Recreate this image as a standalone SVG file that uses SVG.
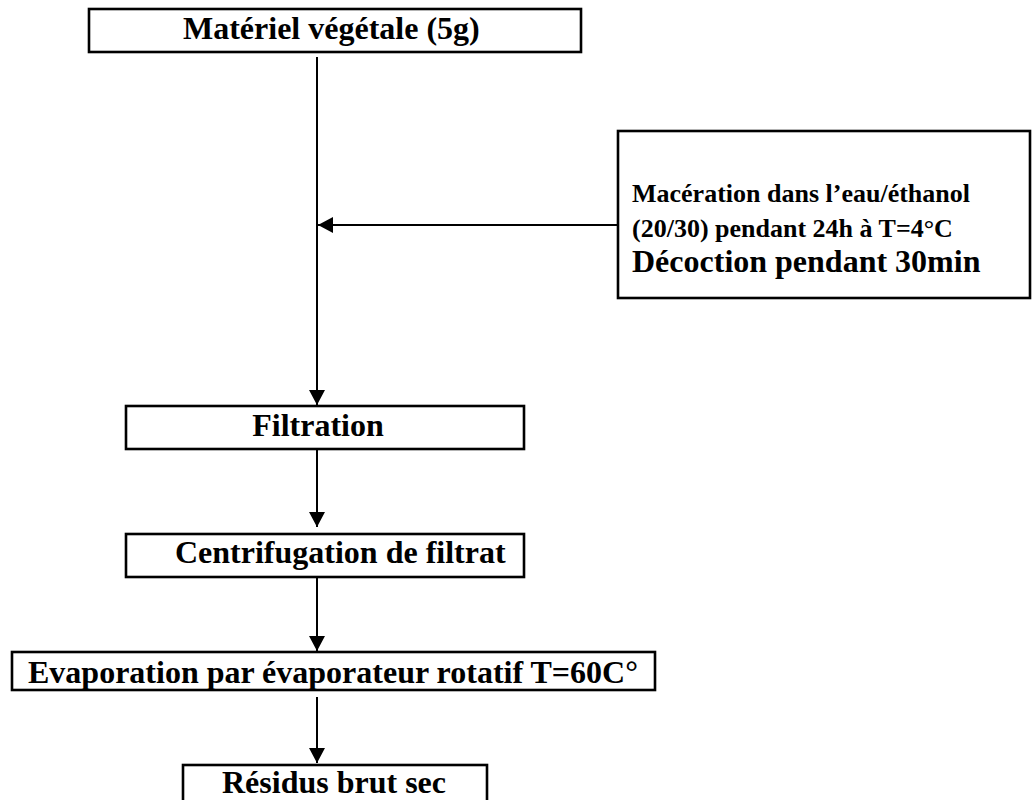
<svg xmlns="http://www.w3.org/2000/svg" width="1032" height="800" viewBox="0 0 1032 800">
  <style>
    .box { fill: #ffffff; stroke: #000000; stroke-width: 2.6; }
    .lbl { font-family: "Liberation Serif", "Times New Roman", serif; font-weight: bold; fill: #000000; font-size: 32px; }
    .small { font-size: 26px; }
    .conn { stroke: #000000; stroke-width: 2; fill: none; }
  </style>
  <defs>
    <marker id="arrow" markerUnits="userSpaceOnUse" markerWidth="16" markerHeight="16" refX="15" refY="8" orient="auto">
      <path d="M0,0 L15,8 L0,16 z" fill="#000000"/>
    </marker>
  </defs>
  <rect width="1032" height="800" fill="#ffffff"/>

  <g id="connectors">
    <line class="conn" x1="317" y1="57" x2="317" y2="405" marker-end="url(#arrow)"/>
    <line class="conn" x1="618" y1="225" x2="318" y2="225" marker-end="url(#arrow)"/>
    <line class="conn" x1="317" y1="449" x2="317" y2="527" marker-end="url(#arrow)"/>
    <line class="conn" x1="317" y1="577" x2="317" y2="651" marker-end="url(#arrow)"/>
    <line class="conn" x1="317" y1="697" x2="317" y2="763" marker-end="url(#arrow)"/>
  </g>

  <g id="node-materiel">
    <rect class="box" x="89" y="9" width="492" height="43"/>
    <text class="lbl" x="183" y="39">Matériel végétale (5g)</text>
  </g>

  <g id="node-maceration">
    <rect class="box" x="618" y="131" width="412" height="167"/>
    <text class="lbl small" x="632" y="202">Macération dans l’eau/éthanol</text>
    <text class="lbl small" x="632" y="237">(20/30) pendant 24h à T=4°C</text>
    <text class="lbl" x="632" y="272">Décoction pendant 30min</text>
  </g>

  <g id="node-filtration">
    <rect class="box" x="126" y="406" width="398" height="43"/>
    <text class="lbl" x="318" y="436" text-anchor="middle">Filtration</text>
  </g>

  <g id="node-centrifugation">
    <rect class="box" x="126" y="534" width="398" height="43"/>
    <text class="lbl" x="175" y="563">Centrifugation de filtrat</text>
  </g>

  <g id="node-evaporation">
    <rect class="box" x="12" y="652" width="643" height="38"/>
    <text class="lbl" x="28" y="683">Evaporation par évaporateur rotatif T=60C°</text>
  </g>

  <g id="node-residus">
    <rect class="box" x="183" y="765" width="304" height="45"/>
    <text class="lbl" x="222" y="793">Résidus brut sec</text>
  </g>
</svg>
